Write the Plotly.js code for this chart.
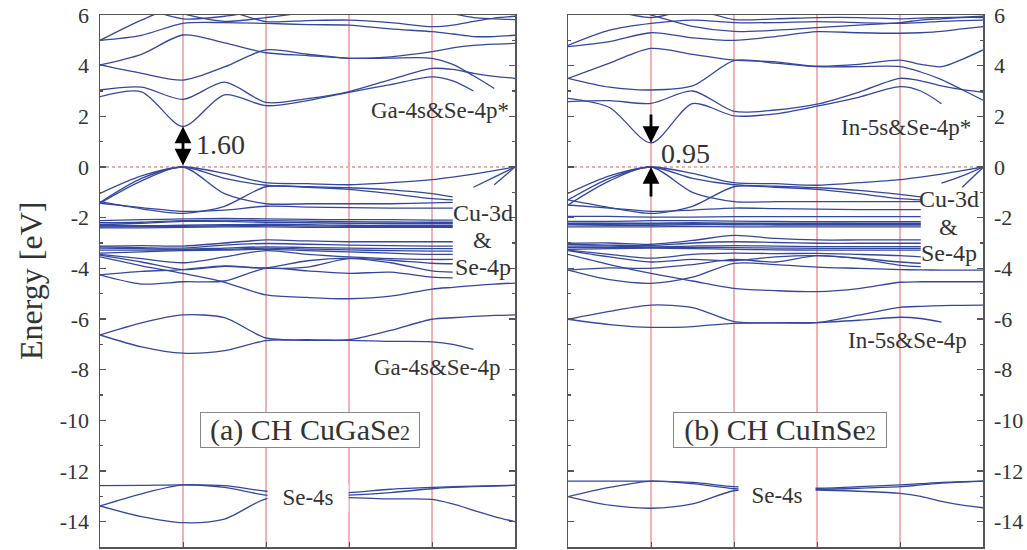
<!DOCTYPE html>
<html>
<head>
<meta charset="utf-8">
<script src="https://cdn.plot.ly/plotly-3.0.1.min.js"></script>
<style>
  html, body { margin: 0; padding: 0; background: #fff; }
  #chart { width: 1027px; height: 550px; }
</style>
</head>
<body>
<div id="chart"></div>
<script>
// k-path sample positions (high-symmetry points at 0..5)
const K = [0, 0.5, 1, 1.5, 2, 2.5, 3, 3.5, 4, 4.25, 4.5, 4.75, 5];
const kPoints = [1, 2, 3, 4];
const energyTicks = [-14, -12, -10, -8, -6, -4, -2, 0, 2, 4, 6];
const energyMinor = [-15, -13, -11, -9, -7, -5, -3, -1, 1, 3, 5];
const _ = null;

// ---- CH CuGaSe2 ----
const gaConduction = [
  [2.78, 2.97, 1.60, 2.85, 2.42, 2.62, 2.95, 3.25, 3.56, 3.40, 3.00, _, _],
  [3.04, 3.15, 2.67, 3.35, 2.55, 2.70, 2.98, 3.45, 3.89, 3.85, 3.70, 3.58, 3.50],
  [4.03, 3.70, 3.43, 3.95, 4.62, 4.45, 4.29, 4.30, 4.29, 4.05, 3.60, 3.10, _],
  [4.03, 4.45, 5.21, 4.90, 4.51, 4.40, 4.29, 4.35, 4.55, 4.70, 4.80, 4.85, 4.88],
  [5.00, 5.20, 5.67, 5.70, 5.67, 5.62, 5.60, 5.45, 5.34, 5.25, 5.15, 5.15, 5.20],
  [5.00, 5.80, 6.40, 6.20, 5.74, 5.78, 5.80, 5.70, 5.54, 5.60, 5.75, 5.88, 5.95],
  [6.80, 6.30, 5.85, 5.95, 6.20, 6.40, 6.50, 6.40, 6.20, 6.05, 5.90, 5.85, 5.82],
  [7.00, 6.60, 6.05, 5.75, 5.90, 6.10, 6.20, 6.30, 6.50, 6.60, 6.50, 6.30, 6.10]
];
const gaValence = [
  [-1.04, -0.35, 0.00, -0.25, -0.62, -0.66, -0.70, -0.62, -0.50, -0.40, -0.28, -0.14, 0.00],
  [-1.40, -0.45, 0.00, -0.45, -0.72, -0.78, -0.82, -0.90, -1.05, -1.18, _, _, _],
  [-1.43, -0.55, 0.00, -1.05, -1.45, -1.45, -1.45, -1.45, -1.42, -1.40, _, _, _],
  [-1.37, -1.65, -1.83, -1.55, -0.78, -0.80, -0.88, -1.05, -1.25, -1.30, _, _, _],
  [-1.43, -1.60, -1.75, -1.70, -1.55, -1.58, -1.60, -1.62, -1.62, -1.62, _, _, _],
  [-2.12, -2.08, -2.05, -2.03, -2.05, -2.07, -2.08, -2.08, -2.10, -2.10, _, _, _],
  [-2.20, -2.18, -2.12, -2.10, -2.12, -2.14, -2.16, -2.17, -2.18, -2.18, _, _, _],
  [-2.28, -2.22, -2.15, -2.15, -2.18, -2.20, -2.22, -2.22, -2.22, -2.22, _, _, _],
  [-2.32, -2.32, -2.30, -2.28, -2.26, -2.28, -2.30, -2.30, -2.30, -2.30, _, _, _],
  [-2.36, -2.35, -2.34, -2.32, -2.31, -2.33, -2.34, -2.34, -2.34, -2.34, _, _, _],
  [-2.40, -2.40, -2.38, -2.36, -2.36, -2.38, -2.38, -2.38, -2.38, -2.38, _, _, _],
  [-3.12, -3.10, -3.12, -3.00, -2.88, -2.92, -2.95, -2.95, -2.95, -2.95, _, _, _],
  [-3.15, -3.18, -3.20, -3.08, -3.02, -3.05, -3.08, -3.10, -3.12, -3.12, _, _, _],
  [-3.20, -3.22, -3.25, -3.20, -3.15, -3.18, -3.20, -3.22, -3.22, -3.22, _, _, _],
  [-3.28, -3.28, -3.27, -3.25, -3.20, -3.24, -3.27, -3.30, -3.32, -3.32, _, _, _],
  [-3.40, -3.35, -3.30, -3.28, -3.25, -3.30, -3.35, -3.40, -3.45, -3.45, _, _, _],
  [-3.45, -3.62, -3.78, -3.55, -3.30, -3.45, -3.55, -3.62, -3.65, -3.65, _, _, _],
  [-3.48, -3.75, -4.05, -3.92, -3.98, -3.70, -3.60, -3.68, -3.80, -3.82, _, _, _],
  [-4.26, -4.12, -4.05, -3.90, -4.00, -3.95, -3.62, -3.78, -4.10, -4.15, _, _, _],
  [-4.26, -4.62, -4.53, -4.50, -4.00, -4.10, -4.20, -4.15, -4.35, -4.38, _, _, _],
  [-3.55, -3.90, -4.20, -4.55, -5.05, -5.15, -5.20, -5.10, -4.82, -4.75, -4.68, -4.62, -4.58],
  [_, _, _, _, _, _, _, _, _, _, -0.80, -0.40, 0.00],
  [_, _, _, _, _, _, _, _, _, _, _, -0.70, 0.00]
];
const gaDeep = [
  [-6.63, -6.15, -5.84, -5.95, -6.75, -6.82, -6.82, -6.45, -6.01, -5.95, -5.90, -5.86, -5.84],
  [-6.63, -7.10, -7.35, -7.25, -6.85, -6.84, -6.84, -6.88, -6.90, -7.00, -7.20, _, _]
];
const gaSe4s = [
  [-12.58, -12.57, -12.55, -12.58, -12.80, -12.90, -12.85, -12.72, -12.65, -12.62, -12.60, -12.58, -12.56],
  [-13.38, -12.90, -12.55, -12.65, -12.95, -13.00, -12.95, -12.85, -12.70, -12.65, -12.62, -12.60, -12.57],
  [-13.38, -13.80, -14.04, -13.90, -13.10, -13.05, -13.05, -13.10, -13.12, -13.30, -13.55, -13.80, -14.00]
];

// ---- CH CuInSe2 ----
const inConduction = [
  [2.71, 2.35, 0.95, 2.50, 2.02, 2.10, 2.40, 2.75, 3.17, 3.00, 2.50, _, _],
  [2.58, 2.62, 2.51, 3.00, 2.20, 2.25, 2.48, 2.95, 3.50, 3.40, 3.20, 3.05, 2.95],
  [3.50, 3.15, 3.04, 3.20, 4.20, 4.10, 3.96, 3.96, 3.96, 3.75, 3.45, 3.05, 2.64],
  [3.50, 4.10, 4.68, 4.45, 4.22, 4.15, 3.98, 4.05, 4.22, 4.05, 3.96, 4.25, 4.62],
  [4.75, 4.95, 5.30, 5.10, 5.00, 5.15, 5.34, 5.30, 5.28, 5.30, 5.35, 5.45, 5.54],
  [4.80, 5.40, 5.67, 5.80, 5.70, 5.70, 5.74, 5.70, 5.67, 5.70, 5.75, 5.78, 5.80],
  [6.60, 6.20, 5.90, 6.20, 5.82, 5.85, 5.90, 5.90, 5.85, 5.88, 5.90, 5.92, 5.95],
  [7.00, 6.50, 6.00, 5.55, 5.35, 5.40, 5.50, 5.60, 5.70, 5.80, 5.85, 5.90, 5.90]
];
const inValence = [
  [-1.04, -0.35, 0.00, -0.25, -0.62, -0.66, -0.72, -0.62, -0.50, -0.40, -0.28, -0.14, 0.00],
  [-1.30, -0.45, 0.00, -0.45, -0.70, -0.76, -0.82, -0.92, -1.08, -1.18, _, _, _],
  [-1.50, -0.55, 0.00, -1.00, -1.37, -1.37, -1.37, -1.37, -1.37, -1.37, _, _, _],
  [-1.30, -1.60, -1.83, -1.55, -0.78, -0.80, -0.88, -1.05, -1.25, -1.30, _, _, _],
  [-1.50, -1.62, -1.75, -1.70, -1.62, -1.64, -1.66, -1.68, -1.68, -1.68, _, _, _],
  [-1.95, -1.95, -1.98, -1.98, -1.96, -1.96, -1.96, -1.96, -1.96, -1.96, _, _, _],
  [-2.15, -2.15, -2.12, -2.12, -2.14, -2.15, -2.16, -2.16, -2.16, -2.16, _, _, _],
  [-2.22, -2.22, -2.22, -2.20, -2.22, -2.22, -2.22, -2.22, -2.22, -2.22, _, _, _],
  [-2.26, -2.26, -2.25, -2.24, -2.25, -2.26, -2.26, -2.26, -2.26, -2.26, _, _, _],
  [-2.28, -2.30, -2.30, -2.28, -2.28, -2.29, -2.29, -2.29, -2.29, -2.29, _, _, _],
  [-2.36, -2.36, -2.36, -2.35, -2.36, -2.36, -2.36, -2.36, -2.36, -2.36, _, _, _],
  [-3.01, -3.00, -3.05, -2.90, -2.70, -2.82, -2.88, -2.88, -2.88, -2.88, _, _, _],
  [-3.05, -3.08, -3.10, -3.00, -2.95, -2.98, -3.01, -3.01, -3.01, -3.01, _, _, _],
  [-3.12, -3.12, -3.15, -3.12, -3.10, -3.12, -3.14, -3.14, -3.14, -3.14, _, _, _],
  [-3.18, -3.18, -3.18, -3.17, -3.18, -3.20, -3.21, -3.21, -3.21, -3.21, _, _, _],
  [-3.25, -3.22, -3.20, -3.22, -3.25, -3.27, -3.28, -3.28, -3.28, -3.28, _, _, _],
  [-3.28, -3.45, -3.60, -3.45, -3.40, -3.42, -3.41, -3.45, -3.50, -3.55, _, _, _],
  [-3.30, -3.55, -3.75, -3.65, -3.70, -3.55, -3.50, -3.60, -3.75, -3.80, _, _, _],
  [-4.07, -3.98, -4.00, -3.85, -3.65, -3.75, -3.50, -3.62, -3.88, -3.93, _, _, _],
  [-4.07, -4.45, -4.59, -4.35, -3.80, -3.85, -3.95, -4.00, -4.05, -4.06, -4.07, -4.07, -4.07],
  [-3.45, -3.85, -4.20, -4.50, -4.79, -4.88, -4.92, -4.80, -4.55, -4.53, -4.53, -4.53, -4.53],
  [_, _, _, _, _, _, _, _, _, _, -0.64, -0.35, 0.00],
  [_, _, _, _, _, _, _, _, _, _, _, -0.80, -0.02]
];
const inDeep = [
  [-6.01, -5.70, -5.45, -5.55, -6.10, -6.15, -6.14, -5.85, -5.54, -5.50, -5.47, -5.46, -5.45],
  [-6.01, -6.22, -6.33, -6.30, -6.17, -6.15, -6.14, -6.05, -5.93, -5.98, -6.12, _, _]
];
const inSe4s = [
  [-12.40, -12.40, -12.40, -12.45, -12.62, -12.68, -12.68, -12.62, -12.55, -12.50, -12.45, -12.42, -12.40],
  [-13.01, -12.65, -12.40, -12.50, -12.70, -12.72, -12.72, -12.68, -12.62, -12.55, -12.48, -12.44, -12.40],
  [-13.01, -13.35, -13.47, -13.30, -12.78, -12.75, -12.75, -12.80, -12.88, -13.00, -13.20, -13.35, -13.45]
];

const BAND = '#34479e';
const FRAME = '#555';
const SERIF = '"Liberation Serif", "DejaVu Serif", serif';
const traces = [];

function addBands(groups, xa, ya) {
  groups.forEach(g => g.forEach(b => traces.push({
    x: K, y: b, xaxis: xa, yaxis: ya, type: 'scatter', mode: 'lines',
    line: { color: BAND, width: 1.3, shape: 'spline', smoothing: 0.8 },
    connectgaps: false, hoverinfo: 'skip', showlegend: false
  })));
}
addBands([gaConduction, gaValence, gaDeep, gaSe4s], 'x', 'y');
addBands([inConduction, inValence, inDeep, inSe4s], 'x2', 'y2');

const kAxis = (domain, anchor) => ({
  domain: domain, anchor: anchor, range: [0, 5],
  tickmode: 'array', tickvals: kPoints, ticktext: kPoints.map(() => ''),
  ticks: 'inside', ticklen: 5, tickcolor: FRAME,
  showgrid: true, gridcolor: '#f3b2b2', gridwidth: 1.1, zeroline: false,
  showline: true, mirror: true, linecolor: FRAME, linewidth: 1.5, fixedrange: true
});
const eAxis = (anchor, side) => ({
  anchor: anchor, side: side, range: [-15, 6],
  tickmode: 'array', tickvals: energyTicks, ticktext: energyTicks.map(v => String(v)),
  ticks: 'inside', ticklen: 6, tickcolor: FRAME, tickwidth: 1.2,
  minor: { tickmode: 'array', tickvals: energyMinor, ticks: 'inside', ticklen: 3, tickcolor: FRAME },
  ticklabelstandoff: 5,
  tickfont: { family: SERIF, size: 22, color: '#333' },
  showgrid: false, zeroline: false,
  showline: true, mirror: 'ticks', linecolor: FRAME, linewidth: 1.5, fixedrange: true
});

const txt = (xr, yr, x, y, text, size, extra) => Object.assign({
  xref: xr, yref: yr, x: x, y: y, text: text, showarrow: false,
  font: { family: SERIF, size: size, color: '#333' }
}, extra || {});

const arrow = (xr, yr, x, y, ax, ay, side) => ({
  xref: xr, yref: yr, axref: xr, ayref: yr, x: x, y: y, ax: ax, ay: ay, text: '',
  showarrow: true, arrowhead: 2, arrowside: side, arrowsize: 1.2, arrowwidth: 2.8,
  arrowcolor: '#000', standoff: 0, startstandoff: 0
});

const sub2 = '<span style="font-size:20px">2</span>';
const annotations = [
  // CuGaSe2
  arrow('x', 'y', 1, 1.60, 1, 0, 'end+start'),
  txt('x', 'y', 1.45, 0.87, '1.60', 28),
  txt('x', 'y', 4.10, 2.25, 'Ga-4s&amp;Se-4p*', 23),
  txt('x', 'y', 4.61, -1.82, 'Cu-3d', 24),
  txt('x', 'y', 4.61, -2.88, '&amp;', 24),
  txt('x', 'y', 4.61, -3.95, 'Se-4p', 24),
  txt('x', 'y', 4.06, -7.90, 'Ga-4s&amp;Se-4p', 23),
  txt('x', 'y', 2.53, -10.38, '(a) CH CuGaSe' + sub2, 30,
      { bordercolor: '#888', borderwidth: 1, borderpad: 0, bgcolor: '#fff', width: 218 }),
  txt('x', 'y', 2.50, -13.03, 'Se-4s', 23, { bgcolor: '#fff', width: 78 }),
  // CuInSe2
  arrow('x2', 'y2', 1, 0.95, 1, 2.13, 'end'),
  arrow('x2', 'y2', 1, 0, 1, -1.22, 'end'),
  txt('x2', 'y2', 1.41, 0.55, '0.95', 28),
  txt('x2', 'y2', 4.07, 1.54, 'In-5s&amp;Se-4p*', 23),
  txt('x2', 'y2', 4.59, -1.26, 'Cu-3d', 24),
  txt('x2', 'y2', 4.59, -2.37, '&amp;', 24),
  txt('x2', 'y2', 4.59, -3.40, 'Se-4p', 24),
  txt('x2', 'y2', 4.09, -6.83, 'In-5s&amp;Se-4p', 23),
  txt('x2', 'y2', 2.55, -10.38, '(b) CH CuInSe' + sub2, 30,
      { bordercolor: '#888', borderwidth: 1, borderpad: 0, bgcolor: '#fff', width: 212 }),
  txt('x2', 'y2', 2.52, -12.95, 'Se-4s', 23, { bgcolor: '#fff', width: 74 }),
  // shared energy title
  { xref: 'paper', yref: 'paper', x: 31 / 1027, y: 0.5, text: 'Energy [eV]', textangle: -90,
    showarrow: false, xanchor: 'center', yanchor: 'middle',
    font: { family: SERIF, size: 32, color: '#333' } }
];

const fermi = (xr, yr) => ({
  type: 'line', xref: xr, yref: yr, x0: 0, x1: 5, y0: 0, y1: 0, layer: 'below',
  line: { color: '#e05a5a', width: 1, dash: 'dot' }
});

const layout = {
  width: 1027, height: 550,
  margin: { l: 0, r: 0, t: 15, b: 3 },
  paper_bgcolor: '#fff', plot_bgcolor: '#fff',
  showlegend: false,
  xaxis: kAxis([100 / 1027, 515 / 1027], 'y'),
  yaxis: eAxis('x', 'left'),
  xaxis2: kAxis([568 / 1027, 983 / 1027], 'y2'),
  yaxis2: eAxis('x2', 'right'),
  shapes: [fermi('x', 'y'), fermi('x2', 'y2')],
  annotations: annotations
};

Plotly.newPlot('chart', traces, layout, { staticPlot: true, displayModeBar: false });
</script>
</body>
</html>
